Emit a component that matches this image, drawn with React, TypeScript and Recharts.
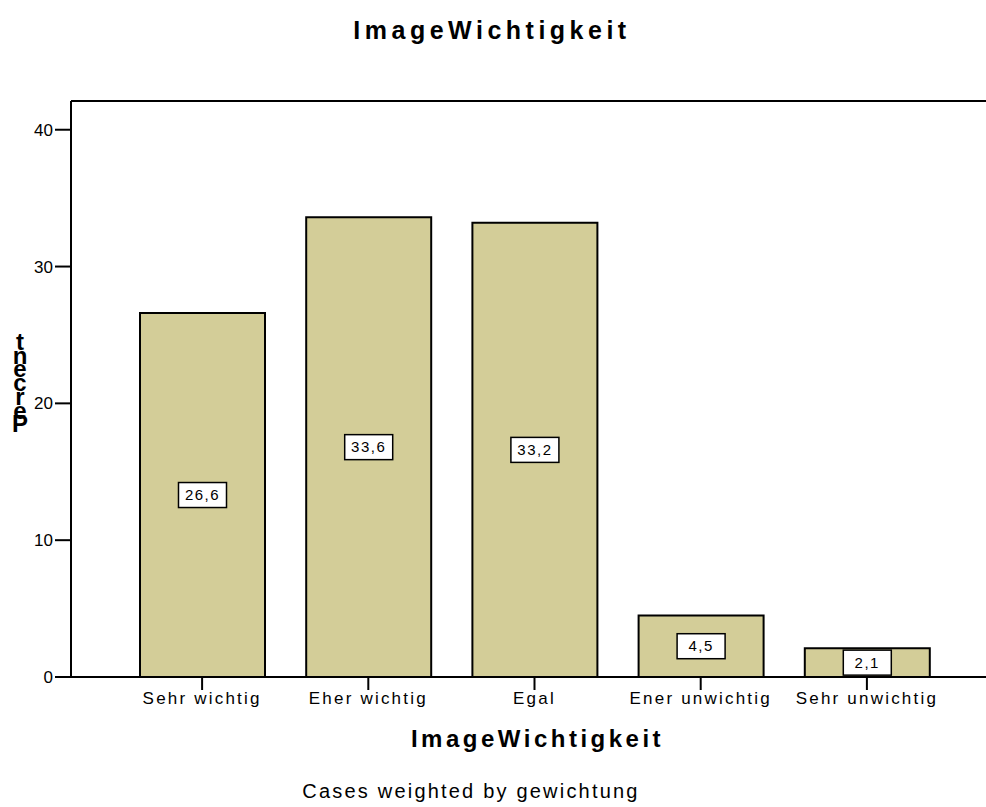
import { Bar, BarChart, LabelList, ReferenceLine, XAxis, YAxis } from 'recharts';

const categories = ['Sehr wichtig', 'Eher wichtig', 'Egal', 'Ener unwichtig', 'Sehr unwichtig'];
const percents = [26.6, 33.6, 33.2, 4.5, 2.1];
const yTicks = [0, 10, 20, 30, 40];
const yMax = 42.1;

const data = categories.map((name, i) => ({ name, percent: percents[i] }));

const FONT = '"Liberation Sans", Arial, sans-serif';

const fmt = (v: number) => v.toFixed(1).replace('.', ',');

function ValueBox(props: any) {
  const { x, y, width, height, value } = props;
  const cx = x + width / 2;
  const cy = y + height / 2;
  const w = 48;
  const h = 25;
  return (
    <g>
      <rect x={cx - w / 2} y={cy - h / 2} width={w} height={h} fill="#fff" stroke="#000" strokeWidth={1.5} />
      <text x={cx} y={cy + 5} textAnchor="middle" fontFamily={FONT} fontSize={15} fill="#000" letterSpacing={1.5}>
        {fmt(value)}
      </text>
    </g>
  );
}

// the y title is drawn as stacked letters, as in the source image
function StackedLabel() {
  const letters = 'tnecreP'.split('');
  return (
    <text fontFamily={FONT} fontSize={24} fontWeight="bold" fill="#000" textAnchor="middle">
      {letters.map((c, i) => (
        <tspan key={i} x={20} y={350 + i * 13.7}>
          {c}
        </tspan>
      ))}
    </text>
  );
}

export default function App() {
  return (
    <div style={{ position: 'absolute', left: 0, top: 0, width: 986, height: 807, background: '#fff' }}>
      <BarChart
        width={986}
        height={807}
        data={data}
        margin={{ top: 101, right: 0, bottom: 0, left: 0 }}
        barSize={125}
      >
        <XAxis
          dataKey="name"
          height={130}
          padding={{ left: 48, right: 36 }}
          stroke="#000"
          strokeWidth={2}
          tickSize={13}
          tick={{ fill: '#000', fontFamily: FONT, fontSize: 17, letterSpacing: 2.2 }}
          tickLine={{ stroke: '#000', strokeWidth: 2 }}
          interval={0}
          label={{
            value: 'ImageWichtigkeit',
            position: 'insideBottom',
            offset: 60,
            dx: 9,
            fill: '#000',
            fontFamily: FONT,
            fontSize: 24,
            fontWeight: 'bold',
            letterSpacing: 3.5,
          }}
        />
        <YAxis
          width={71}
          domain={[0, yMax]}
          ticks={yTicks}
          allowDataOverflow
          stroke="#000"
          strokeWidth={2}
          tickSize={16}
          tickLine={{ stroke: '#000', strokeWidth: 2 }}
          tick={{ fill: '#000', fontFamily: FONT, fontSize: 17 }}
          label={<StackedLabel />}
        />
        <ReferenceLine y={yMax} stroke="#000" strokeWidth={2} />
        <Bar dataKey="percent" fill="#D3CD98" stroke="#000" strokeWidth={2} isAnimationActive={false}>
          <LabelList dataKey="percent" content={<ValueBox />} />
        </Bar>
        <text x={492} y={39} textAnchor="middle" fontFamily={FONT} fontSize={25} fontWeight="bold" letterSpacing={4.5}>
          ImageWichtigkeit
        </text>
        <text x={471} y={798} textAnchor="middle" fontFamily={FONT} fontSize={20} letterSpacing={2.2}>
          Cases weighted by gewichtung
        </text>
      </BarChart>
    </div>
  );
}
